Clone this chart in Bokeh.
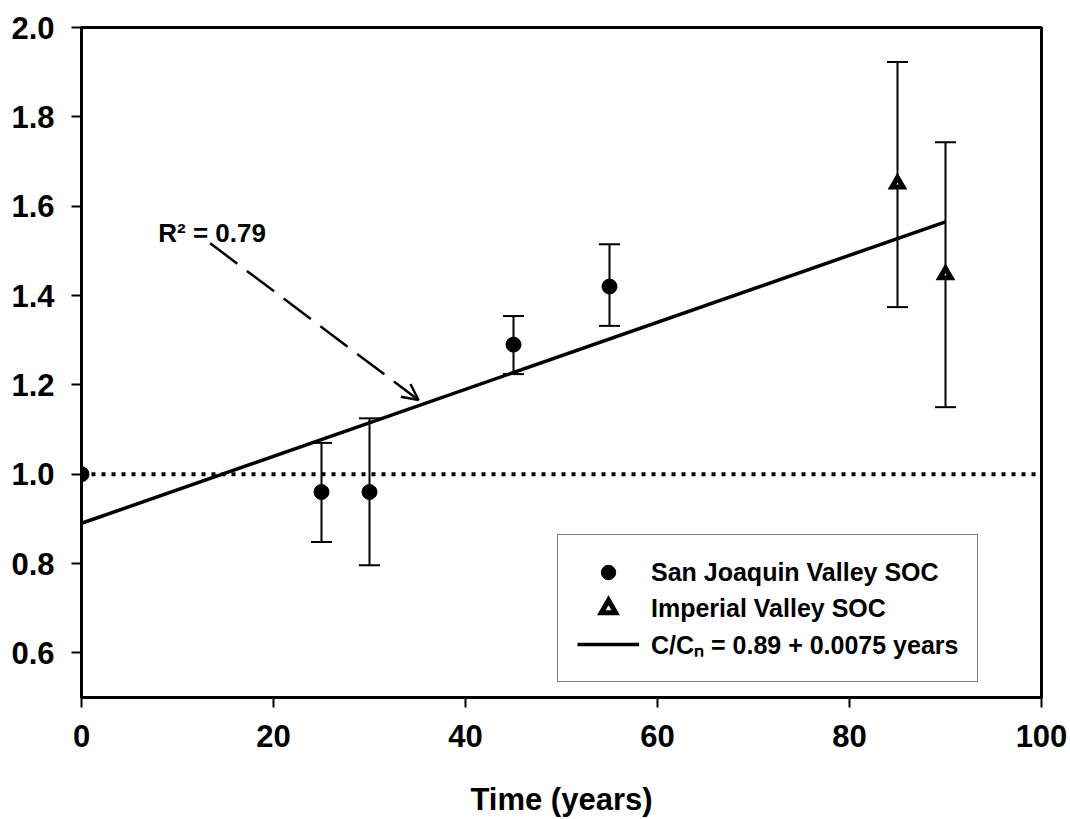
from bokeh.plotting import figure
from bokeh.models import (ColumnDataSource, Whisker, TeeHead, Span, Arrow, OpenHead,
                          Label, Legend, LegendItem, FixedTicker, NumeralTickFormatter, Range1d)
from bokeh.embed import file_html
from bokeh.resources import INLINE

# ---- data ----
sjv_years = [0, 25, 30, 45, 55]
sjv_soc = [1.00, 0.96, 0.96, 1.29, 1.42]
sjv_lower = [None, 0.848, 0.796, 1.224, 1.332]
sjv_upper = [None, 1.070, 1.125, 1.354, 1.515]

iv_years = [85, 90]
iv_soc = [1.65, 1.447]
iv_lower = [1.374, 1.150]
iv_upper = [1.923, 1.743]

fit_years = [0, 90]
fit_soc = [0.89, 1.565]
fit_label = "C/C\u2099 = 0.89 + 0.0075 years"

ref_level = 1.0
r2_text = "R\u00b2 = 0.79"
arrow_from = (13.4, 1.517)
arrow_to = (35.1, 1.166)

x_ticks = [0, 20, 40, 60, 80, 100]
y_ticks = [0.6, 0.8, 1.0, 1.2, 1.4, 1.6, 1.8, 2.0]

FONT = "Liberation Sans"

p = figure(width=1070, height=819, output_backend="svg", toolbar_location=None,
           x_range=Range1d(0, 100), y_range=Range1d(0.5, 2.0),
           min_border_left=81, min_border_right=29, min_border_top=27, min_border_bottom=120)
p.grid.visible = False
p.background_fill_color = "white"
p.border_fill_color = "white"
p.outline_line_color = "black"
p.outline_line_width = 3

for ax in (p.xaxis[0], p.yaxis[0]):
    ax.axis_line_width = 3
    ax.axis_line_color = "black"
    ax.major_tick_line_width = 2
    ax.major_tick_line_color = "black"
    ax.major_tick_in = 0
    ax.major_tick_out = 10
    ax.minor_tick_line_color = None
    ax.major_label_text_font = FONT
    ax.major_label_text_font_style = "bold"
    ax.major_label_text_font_size = "31px"
    ax.major_label_text_color = "black"
    ax.major_label_standoff = 17

p.xaxis.ticker = FixedTicker(ticks=x_ticks)
p.yaxis.ticker = FixedTicker(ticks=y_ticks)
p.yaxis.formatter = NumeralTickFormatter(format="0.0")
p.xaxis.axis_label = "Time (years)"
p.xaxis.axis_label_text_font = FONT
p.xaxis.axis_label_text_font_style = "bold"
p.xaxis.axis_label_text_font_size = "31px"
p.xaxis.axis_label_text_color = "black"
p.xaxis.axis_label_standoff = 32

# reference line at 1.0
p.add_layout(Span(location=ref_level, dimension="width", line_color="black",
                  line_width=4, line_dash="4 6"))

# error bars
eb_x, eb_lo, eb_hi = [], [], []
for x, lo, hi in zip(sjv_years + iv_years, sjv_lower + iv_lower, sjv_upper + iv_upper):
    if lo is not None:
        eb_x.append(x); eb_lo.append(lo); eb_hi.append(hi)
eb_src = ColumnDataSource(dict(x=eb_x, lower=eb_lo, upper=eb_hi))
p.add_layout(Whisker(base="x", lower="lower", upper="upper", source=eb_src,
                     line_width=2, line_color="black",
                     upper_head=TeeHead(size=21, line_width=2, line_color="black"),
                     lower_head=TeeHead(size=21, line_width=2, line_color="black")))

# regression line
fit_r = p.line(fit_years, fit_soc, line_color="black", line_width=3.5)

# points
sjv_r = p.scatter(sjv_years, sjv_soc, marker="circle", size=15,
                  fill_color="black", line_color="black")
iv_r = p.scatter(iv_years, iv_soc, marker="triangle", size=11,
                 fill_color="white", line_color="black", line_width=5,
                 line_join="miter")

# arrow and R2 label
p.add_layout(Arrow(x_start=arrow_from[0], y_start=arrow_from[1],
                   x_end=arrow_to[0], y_end=arrow_to[1],
                   line_color="black", line_width=2.5, line_dash="34 12",
                   end=OpenHead(size=16, line_width=2.5, line_color="black")))
p.add_layout(Label(x=8.0, y=1.54, text=r2_text, text_font=FONT,
                   text_font_style="bold", text_font_size="26px",
                   text_baseline="alphabetic", text_color="black"))

legend = Legend(items=[
    LegendItem(label="San Joaquin Valley SOC", renderers=[sjv_r]),
    LegendItem(label="Imperial Valley SOC", renderers=[iv_r]),
    LegendItem(label=fit_label, renderers=[fit_r]),
], location=(476, 15))
legend.label_text_font = FONT
legend.label_text_font_style = "bold"
legend.label_text_font_size = "25px"
legend.label_text_color = "black"
legend.glyph_width = 62
legend.glyph_height = 36
legend.label_height = 36
legend.spacing = 0
legend.padding = 19
legend.margin = 0
legend.label_standoff = 12
legend.border_line_color = "black"
legend.border_line_width = 1.5
legend.background_fill_color = "white"
legend.background_fill_alpha = 1.0
p.add_layout(legend)

open("out.html", "w").write(file_html(p, INLINE))
